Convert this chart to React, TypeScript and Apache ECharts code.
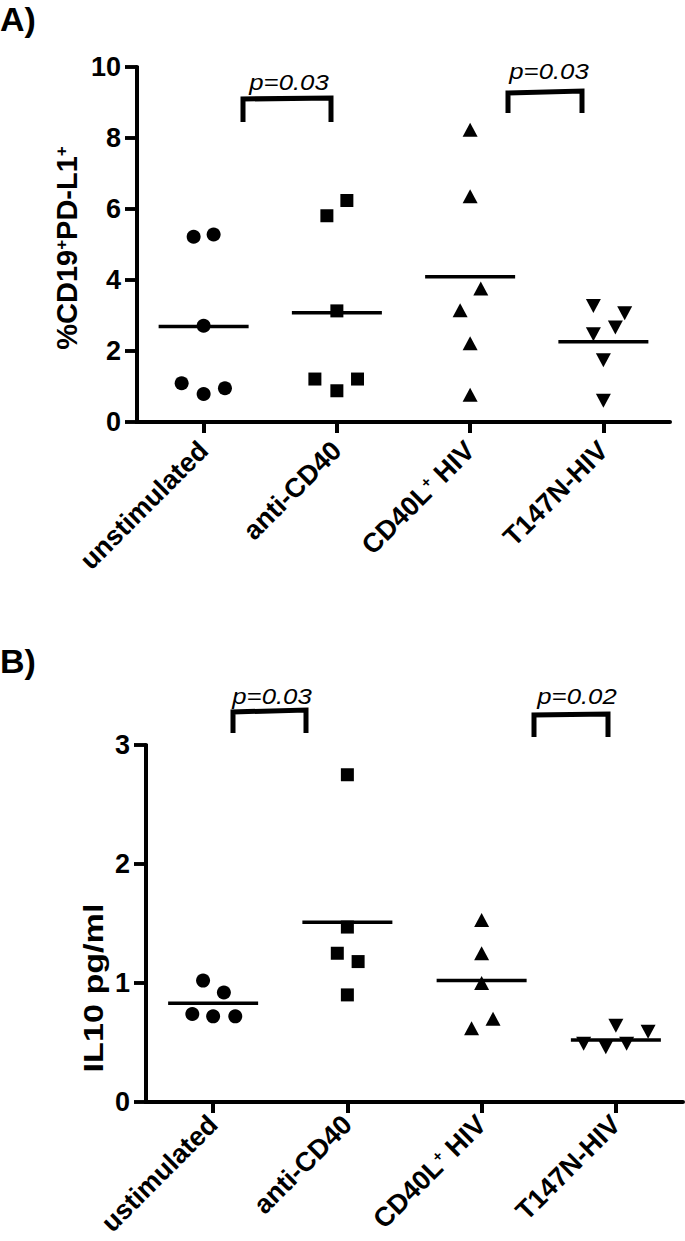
import React, { useEffect, useRef } from 'react';
import * as echarts from 'echarts';

// ---------- data ----------
const categoriesA = ['unstimulated', 'anti-CD40', 'CD40L+ HIV', 'T147N-HIV'];
const categoriesB = ['ustimulated', 'anti-CD40', 'CD40L+ HIV', 'T147N-HIV'];

const yTicksA = { min: 0, max: 10, interval: 2 };
const yTicksB = { min: 0, max: 3, interval: 1 };
const tickValuesA = [0, 2, 4, 6, 8, 10];
const tickValuesB = [0, 1, 2, 3];

// Panel A: %CD19+PD-L1+
const pdl1Unstim = [5.22, 5.28, 2.71, 1.09, 0.79, 0.95];
const pdl1AntiCD40 = [5.81, 6.24, 3.13, 1.21, 0.88, 1.21];
const pdl1CD40LHIV = [8.23, 6.36, 3.76, 3.15, 2.22, 0.77];
const pdl1T147N = [3.27, 3.06, 2.66, 2.47, 1.74, 0.6];
const pdl1Means = [2.69, 3.08, 4.09, 2.26];

// Panel B: IL10 pg/ml
const il10Unstim = [1.02, 0.92, 0.74, 0.72, 0.72];
const il10AntiCD40 = [2.75, 1.47, 1.25, 1.18, 0.9];
const il10CD40LHIV = [1.53, 1.25, 1.0, 0.7, 0.62];
const il10T147N = [0.64, 0.59, 0.49, 0.46, 0.49];
const il10Means = [0.83, 1.51, 1.02, 0.52];

// horizontal spread of points within a category (fraction of category width)
const jitterA = [
  [-0.075, 0.075, 0, -0.165, 0, 0.16],
  [-0.075, 0.075, 0, -0.165, 0, 0.155],
  [0, 0, 0.08, -0.075, 0, 0],
  [-0.075, 0.16, 0.09, -0.075, 0, 0],
];
const jitterB = [
  [-0.075, 0.08, -0.155, 0, 0.165],
  [0, 0, -0.075, 0.08, 0],
  [0, 0, 0, 0.085, -0.075],
  [0, 0.24, -0.24, -0.075, 0.08],
];

const pLabelsA = ['p=0.03', 'p=0.03'];
const pLabelsB = ['p=0.03', 'p=0.02'];

// ---------- styling / layout ----------
const FONT = 'Liberation Sans, Arial, Helvetica, sans-serif';
const GRID_A = { left: 137, top: 67, width: 533, height: 355 };
const GRID_B = { left: 146, top: 745, width: 537, height: 357 };

const toItems = (vals: number[], jit: number[], ci: number, catWidth: number) =>
  vals.map((v, i) => ({ value: [ci, v], symbolOffset: [jit[i] * catWidth, 0] }));

const catAxis = (gridIndex: number, data: string[], margin: number) => ({
  type: 'category',
  gridIndex,
  data,
  axisLine: { show: true, lineStyle: { color: '#000', width: 4 } },
  axisTick: { show: true, alignWithLabel: true, length: 11, lineStyle: { color: '#000', width: 4 } },
  splitLine: { show: false },
  axisLabel: {
    interval: 0,
    rotate: 45,
    margin,
    color: '#000',
    formatter: (v: string) =>
      v === 'CD40L+ HIV' ? '{n|CD40L}{s|+}{n| HIV}' : '{n|' + v + '}',
    rich: {
      n: { fontSize: 27, fontWeight: 'bold', fontFamily: FONT, color: '#000' },
      s: { fontSize: 15, fontWeight: 'bold', fontFamily: FONT, color: '#000', verticalAlign: 'top' },
    },
  },
});

const valAxis = (gridIndex: number, t: { min: number; max: number; interval: number }) => ({
  type: 'value',
  gridIndex,
  min: t.min,
  max: t.max,
  interval: t.interval,
  axisLine: { show: true, onZero: false, lineStyle: { color: '#000', width: 4 } },
  axisTick: { show: true, length: 12, lineStyle: { color: '#000', width: 3.5 } },
  splitLine: { show: false },
  axisLabel: { margin: 16, color: '#000', fontSize: 27, fontWeight: 'bold', fontFamily: FONT },
});

// y-axis spine + ticks drawn from the axis scale (so the spine is always visible)
const ySpine = (gi: number, ticks: number[]) => ({
  type: 'custom',
  xAxisIndex: gi,
  yAxisIndex: gi,
  data: ticks.map((t) => [0, t]),
  silent: true,
  z: 5,
  renderItem: (params: any, api: any) => {
    const cs = params.coordSys;
    const y = api.coord([0, api.value(1)])[1];
    const children: any[] = [
      { type: 'line', shape: { x1: cs.x - 12, y1: y, x2: cs.x, y2: y }, style: { stroke: '#000', lineWidth: 3.5 } },
    ];
    if (params.dataIndex === 0) {
      children.push({
        type: 'line',
        shape: { x1: cs.x, y1: cs.y - 1, x2: cs.x, y2: cs.y + cs.height + 2 },
        style: { stroke: '#000', lineWidth: 4 },
      });
    }
    return { type: 'group', children };
  },
});

const scatter = (gi: number, data: any[], symbol: string, size: any, rot = 0) => ({
  type: 'scatter',
  xAxisIndex: gi,
  yAxisIndex: gi,
  data,
  symbol,
  symbolSize: size,
  symbolRotate: rot,
  itemStyle: { color: '#000', opacity: 1 },
  z: 4,
});

const meanSeries = (gi: number, means: number[]) => ({
  type: 'custom',
  xAxisIndex: gi,
  yAxisIndex: gi,
  data: means.map((m, i) => [i, m]),
  z: 3,
  renderItem: (_p: any, api: any) => {
    const c = api.coord([api.value(0), api.value(1)]);
    return {
      type: 'line',
      shape: { x1: c[0] - 45, y1: c[1], x2: c[0] + 45, y2: c[1] },
      style: { stroke: '#000', lineWidth: 3.5 },
    };
  },
});

const bracket = (pts: number[][]) => ({
  type: 'polyline',
  shape: { points: pts },
  style: { stroke: '#000', lineWidth: 5, fill: null, lineJoin: 'miter', lineCap: 'butt' },
  z: 10,
});

const pText = (text: string, x: number, y: number) => ({
  type: 'text',
  x,
  y,
  scaleX: 1.12,
  style: {
    text,
    fontSize: 23,
    fontStyle: 'italic',
    fontFamily: FONT,
    fill: '#000',
    align: 'center',
    verticalAlign: 'middle',
  },
  z: 10,
});

export default function App() {
  const ref = useRef<HTMLDivElement>(null);

  useEffect(() => {
    if (!ref.current) return;
    const chart = echarts.init(ref.current, null, { renderer: 'svg' });
    const cwA = GRID_A.width / categoriesA.length;
    const cwB = GRID_B.width / categoriesB.length;

    const option: any = {
      animation: false,
      backgroundColor: '#fff',
      grid: [
        { ...GRID_A, outerBoundsMode: 'none', containLabel: false },
        { ...GRID_B, outerBoundsMode: 'none', containLabel: false },
      ],
      xAxis: [catAxis(0, categoriesA, 24), catAxis(1, categoriesB, 18)],
      yAxis: [valAxis(0, yTicksA), valAxis(1, yTicksB)],
      series: [
        scatter(0, toItems(pdl1Unstim, jitterA[0], 0, cwA), 'circle', 14),
        scatter(0, toItems(pdl1AntiCD40, jitterA[1], 1, cwA), 'rect', 13),
        scatter(0, toItems(pdl1CD40LHIV, jitterA[2], 2, cwA), 'triangle', [15, 14]),
        scatter(0, toItems(pdl1T147N, jitterA[3], 3, cwA), 'triangle', [15, 14], 180),
        meanSeries(0, pdl1Means),
        ySpine(0, tickValuesA),
        scatter(1, toItems(il10Unstim, jitterB[0], 0, cwB), 'circle', 14),
        scatter(1, toItems(il10AntiCD40, jitterB[1], 1, cwB), 'rect', 13),
        scatter(1, toItems(il10CD40LHIV, jitterB[2], 2, cwB), 'triangle', [15, 14]),
        scatter(1, toItems(il10T147N, jitterB[3], 3, cwB), 'triangle', [15, 14], 180),
        meanSeries(1, il10Means),
        ySpine(1, tickValuesB),
      ],
      graphic: [
        {
          type: 'text',
          x: 0,
          y: 2,
          style: { text: 'A)', fontSize: 34, fontWeight: 'bold', fontFamily: FONT, fill: '#000', align: 'left', verticalAlign: 'top' },
        },
        {
          type: 'text',
          x: 0,
          y: 644,
          style: { text: 'B)', fontSize: 34, fontWeight: 'bold', fontFamily: FONT, fill: '#000', align: 'left', verticalAlign: 'top' },
        },
        {
          type: 'text',
          x: 67,
          y: 248,
          rotation: Math.PI / 2,
          style: {
            text: '{n|%CD19}{s|+}{n|PD-L1}{s|+}',
            align: 'center',
            verticalAlign: 'middle',
            fill: '#000',
            rich: {
              n: { fontSize: 29, fontWeight: 'bold', fontFamily: FONT, fill: '#000' },
              s: { fontSize: 17, fontWeight: 'bold', fontFamily: FONT, fill: '#000', verticalAlign: 'top' },
            },
          },
        },
        {
          type: 'text',
          x: 94,
          y: 988,
          rotation: Math.PI / 2,
          scaleX: 1.22,
          style: {
            text: 'IL10 pg/ml',
            fontSize: 28,
            fontWeight: 'bold',
            fontFamily: FONT,
            fill: '#000',
            align: 'center',
            verticalAlign: 'middle',
          },
        },
        bracket([[243, 122], [243, 99], [331, 98], [331, 122]]),
        bracket([[508, 113], [508, 93], [582, 91], [582, 113]]),
        bracket([[233, 733], [233, 712], [306, 710], [306, 733]]),
        bracket([[534, 737], [534, 715], [608, 714], [608, 737]]),
        pText(pLabelsA[0], 289, 82),
        pText(pLabelsA[1], 549, 71),
        pText(pLabelsB[0], 272, 696),
        pText(pLabelsB[1], 577, 696),
      ],
    };

    chart.setOption(option);
    return () => chart.dispose();
  }, []);

  return (
    <div
      ref={ref}
      style={{ position: 'absolute', left: 0, top: 0, width: 685, height: 1241, background: '#fff' }}
    />
  );
}
